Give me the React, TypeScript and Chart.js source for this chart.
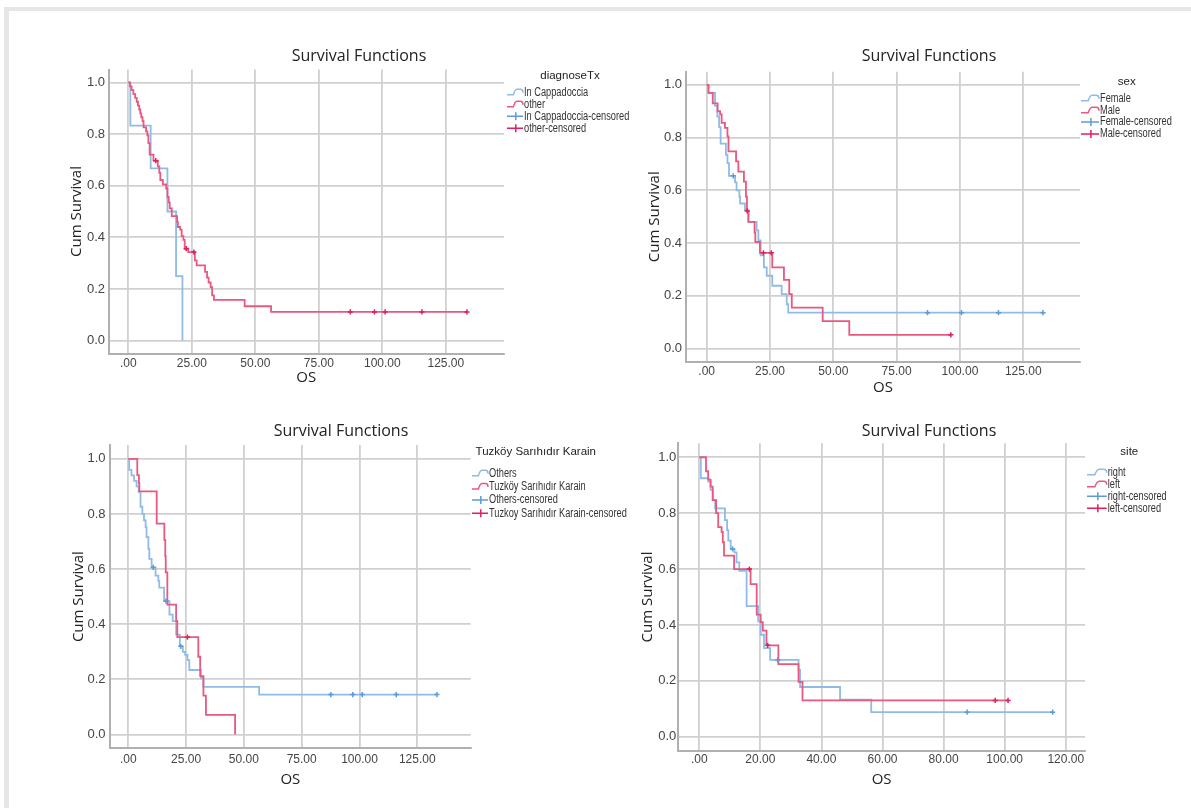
import React, { useEffect, useRef } from 'react';
import { Chart, registerables } from 'chart.js';

Chart.register(...registerables);

const TICKFONT = "'Liberation Sans', Arial, sans-serif";
const REG = "'Open Sans', 'Liberation Sans', sans-serif";
const LEGFONT = "'Liberation Sans', Arial, sans-serif";

// ---------- shared ticks ----------
const yTicks = [0, 0.2, 0.4, 0.6, 0.8, 1.0];
const yTickLabels = ['0.0', '0.2', '0.4', '0.6', '0.8', '1.0'];
const xTicks25 = [0, 25, 50, 75, 100, 125];
const xTickLabels25 = ['.00', '25.00', '50.00', '75.00', '100.00', '125.00'];
const xTicks20 = [0, 20, 40, 60, 80, 100, 120];
const xTickLabels20 = ['.00', '20.00', '40.00', '60.00', '80.00', '100.00', '120.00'];

const chartTitle = 'Survival Functions';
const yTitle = 'Cum Survival';
const xTitle = 'OS';

// ---------- panel 1: diagnoseTx ----------
const p1LegendTitle = 'diagnoseTx';
const p1Groups = ['In Cappadoccia', 'other'];
const cappTimes = [0.8, 8.8, 15.4, 18.8, 21.3];
const cappSurv = [0.833, 0.667, 0.5, 0.25, 0.0];
const cappCensT: number[] = [];
const cappCensS: number[] = [];
const otherTimes = [0.6, 1.3, 2.0, 2.7, 3.3, 3.8, 4.3, 4.7, 5.1, 5.6, 6.0, 7.0, 7.5, 7.9, 8.4, 9.9, 11.6, 12.2, 12.6, 13.6, 14.9, 15.4, 15.9, 16.3, 17.1, 19.2, 19.5, 20.4, 21.0, 21.7, 22.2, 23.6, 26.2, 26.9, 30.2, 31.0, 31.6, 32.4, 33.0, 33.7, 45.8, 56.2];
const otherSurv = [0.985, 0.97, 0.955, 0.94, 0.925, 0.91, 0.895, 0.88, 0.865, 0.85, 0.826, 0.81, 0.795, 0.765, 0.72, 0.697, 0.675, 0.65, 0.622, 0.605, 0.589, 0.557, 0.535, 0.512, 0.482, 0.46, 0.44, 0.43, 0.405, 0.39, 0.356, 0.343, 0.311, 0.291, 0.266, 0.244, 0.225, 0.207, 0.175, 0.158, 0.133, 0.111];
const otherEnd = 133.3;
const otherCensT = [10.8, 22.8, 25.8, 87.4, 96.9, 101.1, 115.6, 133.3];
const otherCensS = [0.697, 0.356, 0.343, 0.111, 0.111, 0.111, 0.111, 0.111];

// ---------- panel 2: sex ----------
const p2LegendTitle = 'sex';
const p2Groups = ['Female', 'Male'];
const femTimes = [0.7, 3.3, 4.2, 4.9, 5.5, 7.6, 8.2, 8.8, 11.2, 11.8, 12.9, 13.2, 15.1, 16.4, 19.7, 20.4, 21.3, 22.6, 23.7, 25.9, 29.6, 31.6, 32.2];
const femSurv = [0.97, 0.92, 0.88, 0.84, 0.777, 0.735, 0.703, 0.655, 0.63, 0.6, 0.576, 0.55, 0.525, 0.48, 0.448, 0.41, 0.353, 0.308, 0.276, 0.238, 0.206, 0.168, 0.136];
const femEnd = 132.8;
const femCensT = [10.5, 87.2, 100.6, 115.2, 132.8];
const femCensS = [0.655, 0.136, 0.136, 0.136, 0.136];
const maleTimes = [0.7, 2.4, 4.3, 5.3, 5.9, 7.2, 8.2, 8.6, 11.6, 12.5, 14.7, 15.5, 15.9, 16.5, 18.9, 19.2, 21.0, 25.9, 30.5, 32.6, 33.6, 45.8, 56.3];
const maleSurv = [0.97, 0.93, 0.9, 0.888, 0.856, 0.837, 0.805, 0.748, 0.71, 0.671, 0.633, 0.576, 0.522, 0.48, 0.44, 0.404, 0.363, 0.308, 0.26, 0.206, 0.155, 0.104, 0.052];
const maleEnd = 96.4;
const maleCensT = [16.0, 22.4, 25.5, 96.4];
const maleCensS = [0.522, 0.363, 0.363, 0.052];

// ---------- panel 3: Tuzköy Sarıhıdır Karain ----------
const p3LegendTitle = 'Tuzköy Sarıhıdır Karain';
const p3Groups = ['Others', 'Tuzköy Sarıhıdır Karain'];
const p3CensoredLabels = ['Others-censored', 'Tuzkoy Sarıhıdır Karain-censored'];
const othTimes = [0.4, 1.4, 2.5, 3.6, 4.5, 5.3, 6.1, 6.8, 7.5, 7.9, 8.7, 9.1, 10.1, 11.8, 13.0, 13.4, 15.5, 17.8, 19.2, 20.7, 22.3, 23.6, 24.6, 25.6, 26.4, 31.4, 32.5, 56.6];
const othSurv = [0.96, 0.94, 0.92, 0.9, 0.88, 0.826, 0.8, 0.777, 0.752, 0.716, 0.673, 0.637, 0.606, 0.576, 0.557, 0.533, 0.484, 0.435, 0.411, 0.362, 0.32, 0.3, 0.289, 0.27, 0.234, 0.204, 0.173, 0.145];
const othEnd = 133.5;
const othCensT = [10.8, 16.3, 22.7, 87.6, 97.1, 101.2, 115.9, 133.5];
const othCensS = [0.606, 0.484, 0.32, 0.145, 0.145, 0.145, 0.145, 0.145];
const tuzTimes = [3.9, 4.6, 4.8, 12.3, 15.6, 16.0, 16.2, 16.9, 20.7, 21.2, 30.3, 31.1, 32.5, 33.6, 46.2];
const tuzSurv = [0.941, 0.912, 0.882, 0.765, 0.706, 0.647, 0.588, 0.471, 0.412, 0.353, 0.282, 0.212, 0.141, 0.071, 0.0];
const tuzCensT = [25.6];
const tuzCensS = [0.353];

// ---------- panel 4: site ----------
const p4LegendTitle = 'site';
const p4Groups = ['right', 'left'];
const rightTimes = [0.5, 3.0, 3.7, 4.4, 5.2, 8.4, 9.1, 9.5, 10.3, 11.5, 12.2, 13.1, 15.5, 19.3, 20.1, 21.2, 23.2, 32.5, 33.0, 46.1, 56.3];
const rightSurv = [0.925, 0.913, 0.883, 0.847, 0.817, 0.775, 0.739, 0.702, 0.672, 0.66, 0.624, 0.594, 0.467, 0.413, 0.365, 0.317, 0.275, 0.239, 0.178, 0.133, 0.088];
const rightEnd = 115.7;
const rightCensT = [10.9, 25.7, 87.7, 115.7];
const rightCensS = [0.672, 0.275, 0.088, 0.088];
const leftTimes = [2.2, 2.9, 3.7, 4.4, 5.5, 6.2, 7.3, 7.7, 8.1, 11.4, 16.8, 18.8, 20.1, 20.8, 22.0, 25.9, 32.5, 33.8];
const leftSurv = [0.95, 0.92, 0.895, 0.847, 0.8, 0.75, 0.733, 0.696, 0.648, 0.6, 0.546, 0.437, 0.41, 0.38, 0.327, 0.26, 0.196, 0.13];
const leftEnd = 101.1;
const leftCensT = [16.4, 22.4, 96.9, 101.1];
const leftCensS = [0.6, 0.327, 0.13, 0.13];

// ---------- styles ----------
const BLUE_LINE = '#8fbbe6';
const RED_LINE = '#e8587f';
const BLUE_MARK = '#5f9ad6';
const RED_MARK = '#e01f5c';

type Group = {
  label: string;
  censLabel: string;
  times: number[];
  surv: number[];
  end: number | null;
  censT: number[];
  censS: number[];
  line: string;
  mark: string;
};

type Layout = {
  left: number; top: number; width: number;
  L: number; R: number; T: number; B: number;
  titleCY: number; osCY: number; yTitleX: number;
  xMin: number; xMax: number;
  xTickPad: number; yTickPad: number;
  legTitleX: number; legTitleY: number; legY0: number; legDY: number; iconX: number; textX: number;
};

type Panel = {
  layout: Layout;
  legendTitle: string;
  xTicks: number[];
  xTickLabels: string[];
  groups: Group[];
};

function kmPoints(times: number[], surv: number[], end: number | null) {
  const pts = [{ x: 0, y: 1 }];
  times.forEach((t, i) => pts.push({ x: t, y: surv[i] }));
  if (end !== null) pts.push({ x: end, y: surv[surv.length - 1] });
  return pts;
}

function grp(label: string, censLabel: string, times: number[], surv: number[], end: number | null, censT: number[], censS: number[], blue: boolean): Group {
  return { label, censLabel, times, surv, end, censT, censS, line: blue ? BLUE_LINE : RED_LINE, mark: blue ? BLUE_MARK : RED_MARK };
}

const panels: Panel[] = [
  {
    layout: { left: 66, top: 36, width: 586, L: 108.5, R: 504, T: 69.5, B: 353.5, titleCY: 56.5, osCY: 378, yTitleX: 76.7, xMin: -7.8, xMax: 147.9, xTickPad: 2.5, yTickPad: 3.5, legTitleX: 570, legTitleY: 76, legY0: 92.3, legDY: 12, iconX: 507, textX: 524 },
    legendTitle: p1LegendTitle, xTicks: xTicks25, xTickLabels: xTickLabels25,
    groups: [
      grp(p1Groups[0], p1Groups[0] + '-censored', cappTimes, cappSurv, null, cappCensT, cappCensS, true),
      grp(p1Groups[1], p1Groups[1] + '-censored', otherTimes, otherSurv, otherEnd, otherCensT, otherCensS, false),
    ],
  },
  {
    layout: { left: 645, top: 36, width: 568, L: 686, R: 1080, T: 71.7, B: 361.7, titleCY: 56.5, osCY: 388, yTitleX: 655, xMin: -8.17, xMax: 147.4, xTickPad: 2.7, yTickPad: 4, legTitleX: 1126.7, legTitleY: 82, legY0: 98.3, legDY: 11.9, iconX: 1081, textX: 1100 },
    legendTitle: p2LegendTitle, xTicks: xTicks25, xTickLabels: xTickLabels25,
    groups: [
      grp(p2Groups[0], p2Groups[0] + '-censored', femTimes, femSurv, femEnd, femCensT, femCensS, true),
      grp(p2Groups[1], p2Groups[1] + '-censored', maleTimes, maleSurv, maleEnd, maleCensT, maleCensS, false),
    ],
  },
  {
    layout: { left: 50, top: 410, width: 582, L: 110, R: 470.7, T: 445, B: 748.3, titleCY: 431, osCY: 780, yTitleX: 78.3, xMin: -7.9, xMax: 148.1, xTickPad: 4.2, yTickPad: 4.5, legTitleX: 535.8, legTitleY: 452.3, legY0: 473.3, legDY: 13.3, iconX: 472, textX: 489 },
    legendTitle: p3LegendTitle, xTicks: xTicks25, xTickLabels: xTickLabels25,
    groups: [
      grp(p3Groups[0], p3CensoredLabels[0], othTimes, othSurv, othEnd, othCensT, othCensS, true),
      grp(p3Groups[1], p3CensoredLabels[1], tuzTimes, tuzSurv, null, tuzCensT, tuzCensS, false),
    ],
  },
  {
    layout: { left: 636, top: 410, width: 586, L: 678.3, R: 1085, T: 443.3, B: 750.7, titleCY: 431, osCY: 779.3, yTitleX: 648, xMin: -6.87, xMax: 126.3, xTickPad: 2, yTickPad: 2, legTitleX: 1129.3, legTitleY: 452.3, legY0: 472.3, legDY: 12, iconX: 1087, textX: 1107.7 },
    legendTitle: p4LegendTitle, xTicks: xTicks20, xTickLabels: xTickLabels20,
    groups: [
      grp(p4Groups[0], p4Groups[0] + '-censored', rightTimes, rightSurv, rightEnd, rightCensT, rightCensS, true),
      grp(p4Groups[1], p4Groups[1] + '-censored', leftTimes, leftSurv, leftEnd, leftCensT, leftCensS, false),
    ],
  },
];

function geometry(l: Layout) {
  const xH = l.osCY - l.B + 11;
  const rawH = l.B + xH - l.top;
  const height = Math.ceil(rawH);
  return { xH, height, padB: height - rawH };
}

function makeLegendPlugin(panel: Panel) {
  const l = panel.layout;
  const items: { label: string; color: string; kind: string }[] = [];
  panel.groups.forEach((g) => items.push({ label: g.label, color: g.line, kind: 'line' }));
  panel.groups.forEach((g) => items.push({ label: g.censLabel, color: g.mark, kind: 'cens' }));
  return {
    id: 'kmLegend',
    afterDraw(chart: any) {
      const ctx = chart.ctx as CanvasRenderingContext2D;
      const ox = l.left, oy = l.top;
      ctx.save();
      ctx.textBaseline = 'middle';
      ctx.fillStyle = '#222';
      ctx.font = `11.5px ${LEGFONT}`;
      ctx.textAlign = 'center';
      ctx.fillText(panel.legendTitle, l.legTitleX - ox, l.legTitleY - oy);
      items.forEach((it, i) => {
        const y = l.legY0 + i * l.legDY - oy;
        const x0 = l.iconX - ox;
        const w = l.textX - l.iconX - 1;
        ctx.strokeStyle = it.color;
        ctx.lineWidth = 1.5;
        ctx.beginPath();
        if (it.kind === 'line') {
          ctx.moveTo(x0, y + 2.5);
          ctx.lineTo(x0 + w * 0.4, y + 2.5);
          ctx.quadraticCurveTo(x0 + w * 0.5, y - 3, x0 + w * 0.62, y - 3);
          ctx.lineTo(x0 + w * 0.85, y - 3);
          ctx.quadraticCurveTo(x0 + w, y - 3, x0 + w, y + 0.5);
        } else {
          ctx.moveTo(x0, y);
          ctx.lineTo(x0 + w, y);
          ctx.moveTo(x0 + w * 0.55, y - 4);
          ctx.lineTo(x0 + w * 0.55, y + 4);
        }
        ctx.stroke();
        ctx.save();
        ctx.translate(l.textX - ox, y);
        ctx.scale(0.77, 1);
        ctx.fillStyle = '#333';
        ctx.font = `12px ${LEGFONT}`;
        ctx.textAlign = 'left';
        ctx.fillText(it.label, 0, 0);
        ctx.restore();
      });
      ctx.restore();
    },
  };
}

function buildConfig(panel: Panel): any {
  const l = panel.layout;
  const g = geometry(l);
  const datasets: any[] = [];
  panel.groups.forEach((gr, i) => {
    datasets.push({
      type: 'line',
      label: gr.label,
      data: kmPoints(gr.times, gr.surv, gr.end),
      borderColor: gr.line,
      backgroundColor: gr.line,
      borderWidth: 1.8,
      pointRadius: 0,
      stepped: true,
      fill: false,
      order: i === 0 ? 3 : 2,
    });
  });
  panel.groups.forEach((gr) => {
    datasets.push({
      type: 'line',
      label: gr.censLabel,
      data: gr.censT.map((t, i) => ({ x: t, y: gr.censS[i] })),
      showLine: false,
      borderColor: gr.mark,
      backgroundColor: gr.mark,
      pointStyle: 'cross',
      pointRadius: 2.6,
      pointBorderWidth: 1.5,
      order: 1,
    });
  });
  const gridColor = '#d0d0d0';
  const axisColor = '#b0b0b0';
  return {
    type: 'line',
    data: { datasets },
    plugins: [makeLegendPlugin(panel)],
    options: {
      responsive: false,
      animation: false,
      events: [],
      layout: { padding: { left: 0, right: 0, top: 0, bottom: g.padB } },
      plugins: {
        legend: { display: false },
        tooltip: { enabled: false },
        title: {
          display: true,
          text: chartTitle,
          color: '#222',
          font: { family: REG, size: 16, weight: 'normal', lineHeight: 1.2 },
          padding: { top: l.titleCY - l.top - 9.6, bottom: l.T - l.titleCY - 9.6 },
        },
      },
      scales: {
        x: {
          type: 'linear',
          position: 'bottom',
          min: l.xMin,
          max: l.xMax,
          afterBuildTicks: (s: any) => { s.ticks = panel.xTicks.map((v) => ({ value: v })); },
          afterFit: (s: any) => { s.height = g.xH; },
          ticks: {
            autoSkip: false, maxRotation: 0, padding: l.xTickPad,
            color: '#444', font: { family: TICKFONT, size: 12, lineHeight: 1.2 },
            callback: (_v: any, i: number) => panel.xTickLabels[i],
          },
          grid: { color: gridColor, lineWidth: 1.8, drawTicks: false },
          border: { display: true, color: axisColor, width: 2 },
          title: { display: true, text: xTitle, color: '#222', font: { family: REG, size: 15, lineHeight: 1.2 }, padding: { top: 0, bottom: 2 } },
        },
        y: {
          type: 'linear',
          position: 'left',
          min: -0.05,
          max: 1.05,
          afterBuildTicks: (s: any) => { s.ticks = yTicks.map((v) => ({ value: v })); },
          afterFit: (s: any) => { s.width = l.L - l.left; },
          ticks: {
            autoSkip: false, padding: l.yTickPad,
            color: '#444', font: { family: TICKFONT, size: 13, lineHeight: 1.2 },
            callback: (_v: any, i: number) => yTickLabels[i],
          },
          grid: { color: gridColor, lineWidth: 1.8, drawTicks: false },
          border: { display: true, color: axisColor, width: 2 },
          title: { display: true, text: yTitle, color: '#222', font: { family: REG, size: 15, lineHeight: 1.2 }, padding: { top: l.yTitleX - l.left - 9, bottom: 0 } },
        },
        legendSpace: {
          type: 'linear',
          position: 'right',
          min: 0,
          max: 1,
          afterFit: (s: any) => { s.width = l.left + l.width - l.R; },
          ticks: { display: false },
          grid: { display: false, drawTicks: false },
          border: { display: false },
        },
      },
    },
  };
}

function KMChart({ panel }: { panel: Panel }) {
  const ref = useRef<HTMLCanvasElement>(null);
  const l = panel.layout;
  const g = geometry(l);
  useEffect(() => {
    const chart = new Chart(ref.current as HTMLCanvasElement, buildConfig(panel));
    return () => chart.destroy();
  }, [panel]);
  return (
    <canvas
      ref={ref}
      width={l.width}
      height={g.height}
      style={{ position: 'absolute', left: l.left, top: l.top, width: l.width, height: g.height }}
    />
  );
}

export default function App() {
  return (
    <div style={{ position: 'fixed', left: 0, top: 0, width: 1191, height: 808, overflow: 'hidden', background: '#ffffff' }}>
      <div style={{ position: 'absolute', left: 4, top: 7, width: 1187, height: 4, background: '#e6e6e6' }} />
      <div style={{ position: 'absolute', left: 4, top: 7, width: 5, height: 801, background: '#e6e6e6' }} />
      {panels.map((p, i) => (
        <KMChart key={i} panel={p} />
      ))}
    </div>
  );
}
